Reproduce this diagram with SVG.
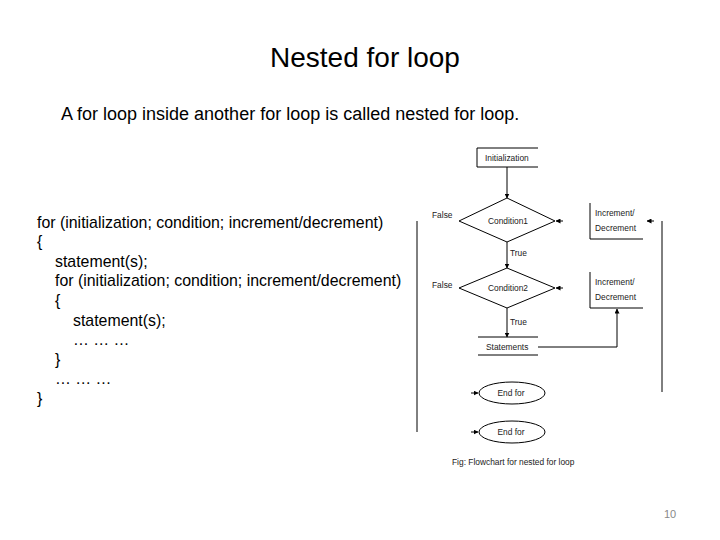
<svg xmlns="http://www.w3.org/2000/svg" width="720" height="540" viewBox="0 0 720 540">
<defs>
<style>
.t{font-family:"Liberation Sans",Arial,sans-serif;fill:#000}
.code{font-size:15.9px}
.fc{font-size:8.4px;fill:#222}
.ln{stroke:#000;stroke-width:1;fill:none}
.shape{stroke:#000;stroke-width:1;fill:#fff}
</style>
<marker id="ah" viewBox="0 0 10 10" refX="9" refY="5" markerWidth="5" markerHeight="5" orient="auto-start-reverse"><path d="M0,0 L10,5 L0,10 z" fill="#000"/></marker>
</defs>
<rect width="720" height="540" fill="#fff"/>
<text class="t" x="365" y="67" font-size="28" text-anchor="middle">Nested for loop</text>
<text class="t" x="61" y="120" font-size="18">A for loop inside another for loop is called nested for loop.</text>
<g id="code">
<text class="t code" x="37" y="228">for (initialization; condition; increment/decrement)</text>
<text class="t code" x="37" y="247">{</text>
<text class="t code" x="55" y="267">statement(s);</text>
<text class="t code" x="55" y="286">for (initialization; condition; increment/decrement)</text>
<text class="t code" x="55" y="306">{</text>
<text class="t code" x="73" y="326">statement(s);</text>
<text class="t code" x="73" y="345">… … …</text>
<text class="t code" x="55" y="365">}</text>
<text class="t code" x="55" y="384">… … …</text>
<text class="t code" x="37" y="404">}</text>
</g>
<g id="connectors">
<line class="ln" x1="417" y1="221" x2="417" y2="432"/>
<line class="ln" x1="662" y1="221" x2="662" y2="392"/>
<line class="ln" x1="507" y1="167" x2="507" y2="198" marker-end="url(#ah)"/>
<line class="ln" x1="507" y1="242" x2="507" y2="268" marker-end="url(#ah)"/>
<line class="ln" x1="507" y1="308" x2="507" y2="337" marker-end="url(#ah)"/>
<polyline class="ln" points="538,347 617,347 617,309" marker-end="url(#ah)"/>
<line class="ln" x1="563" y1="221" x2="556" y2="221" marker-end="url(#ah)"/>
<line class="ln" x1="563" y1="288" x2="556" y2="288" marker-end="url(#ah)"/>
<line class="ln" x1="654" y1="221" x2="647" y2="221" marker-end="url(#ah)"/>
<line class="ln" x1="471" y1="393" x2="478" y2="393" marker-end="url(#ah)"/>
<line class="ln" x1="471" y1="432" x2="478" y2="432" marker-end="url(#ah)"/>
</g>
<g id="init">
<polyline class="ln" points="538,148 477,148 477,167 538,167"/>
<text class="t fc" x="485" y="161">Initialization</text>
</g>
<g id="cond1">
<polygon class="shape" points="507,198 555,221 507,242 459,221"/>
<text class="t fc" x="508" y="224" text-anchor="middle">Condition1</text>
<text class="t fc" x="432" y="218">False</text>
<text class="t fc" x="510" y="256">True</text>
</g>
<g id="inc1">
<polyline class="ln" points="590,203 590,239 643,239"/>
<text class="t fc" x="595" y="216">Increment/</text>
<text class="t fc" x="595" y="231">Decrement</text>
</g>
<g id="cond2">
<polygon class="shape" points="507,268 555,288 507,308 459,288"/>
<text class="t fc" x="508" y="291" text-anchor="middle">Condition2</text>
<text class="t fc" x="432" y="288">False</text>
<text class="t fc" x="510" y="325">True</text>
</g>
<g id="inc2">
<polyline class="ln" points="590,272 590,308 643,308"/>
<text class="t fc" x="595" y="285">Increment/</text>
<text class="t fc" x="595" y="300">Decrement</text>
</g>
<g id="statements">
<line class="ln" x1="478" y1="337" x2="538" y2="337"/>
<line class="ln" x1="478" y1="355" x2="538" y2="355"/>
<text class="t fc" x="486" y="350">Statements</text>
</g>
<g id="endfor1">
<ellipse class="shape" cx="512" cy="393" rx="33" ry="11"/>
<text class="t fc" x="511" y="396" text-anchor="middle">End for</text>
</g>
<g id="endfor2">
<ellipse class="shape" cx="512" cy="432" rx="33" ry="11"/>
<text class="t fc" x="511" y="435" text-anchor="middle">End for</text>
</g>
<text class="t fc" x="452" y="465">Fig: Flowchart for nested for loop</text>
<text class="t" x="670" y="518" font-size="11" text-anchor="middle" style="fill:#888">10</text>
</svg>
